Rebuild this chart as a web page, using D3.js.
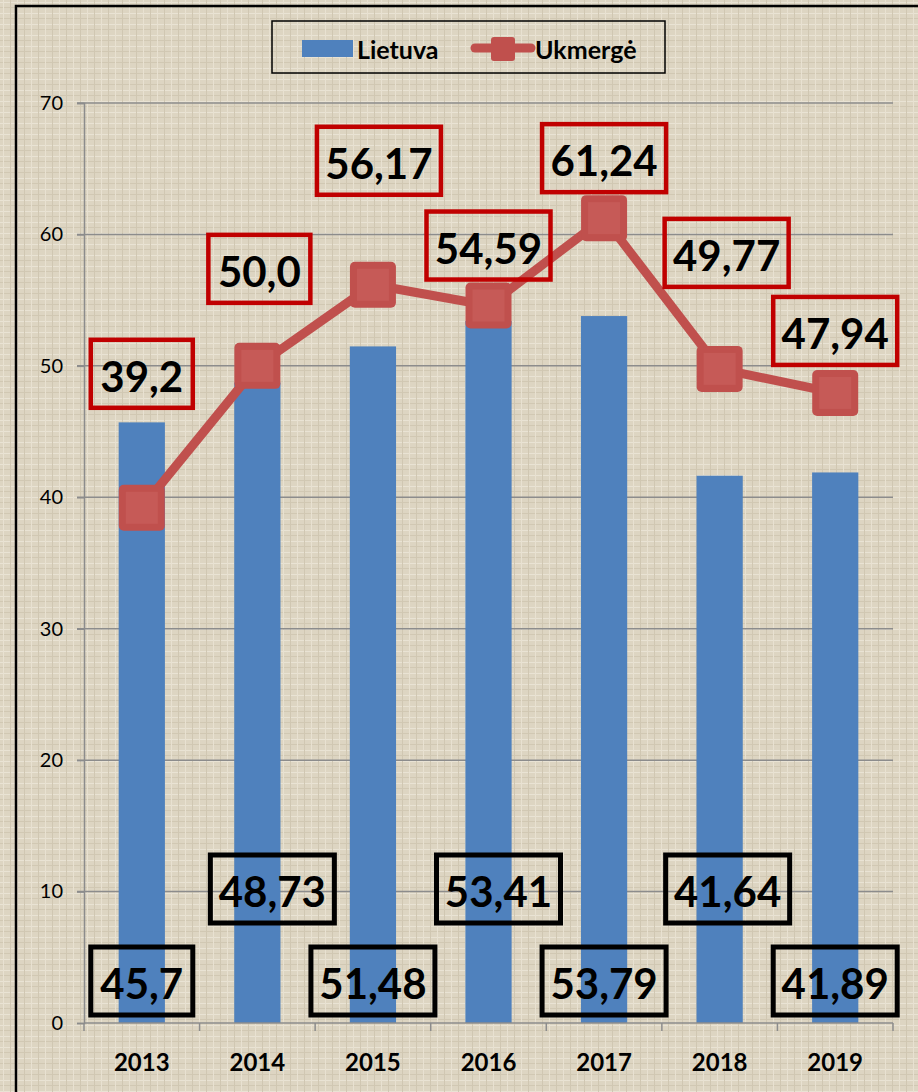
<!DOCTYPE html>
<html>
<head>
<meta charset="utf-8">
<script src="https://cdn.jsdelivr.net/npm/d3@7"></script>
<style>
  body { margin: 0; background: #ddd5c2; }
  #wrapper { width: 918px; height: 1092px; }
</style>
</head>
<body>
<div id="wrapper"></div>
<script>
// data
const years = ["2013", "2014", "2015", "2016", "2017", "2018", "2019"]
const lietuva = [45.7, 48.73, 51.48, 53.41, 53.79, 41.64, 41.89]
const ukmerge = [39.2, 50.0, 56.17, 54.59, 61.24, 49.77, 47.94]
const lietuvaLabels = ["45,7", "48,73", "51,48", "53,41", "53,79", "41,64", "41,89"]
const ukmergeLabels = ["39,2", "50,0", "56,17", "54,59", "61,24", "49,77", "47,94"]
const yTicks = [0, 10, 20, 30, 40, 50, 60, 70]

// label placement (layout, px)
const ukLabelOffsets = [[0, -134], [2, -97], [6, -124], [0, -60], [0, -60], [7, -116], [0, -62]]
const ltLabelDx = [0, 15, 0, 10, 0, 8, 0]
const ltLabelRows = [981, 889, 981, 889, 981, 889, 981]

const width = 918
const height = 1092
const margin = { top: 103, right: 25, bottom: 69, left: 84 }

const svg = d3.select("#wrapper").append("svg")
  .attr("width", width)
  .attr("height", height)
  .style("font-family", "Lato, 'Open Sans', sans-serif")

// textured background
const defs = svg.append("defs")
const pat = defs.append("pattern")
  .attr("id", "burlap")
  .attr("width", 14).attr("height", 11)
  .attr("patternUnits", "userSpaceOnUse")
pat.append("rect").attr("width", 14).attr("height", 11).attr("fill", "#ddd5c2")
pat.append("rect").attr("x", 0).attr("y", 2).attr("width", 14).attr("height", 1).attr("fill", "#e9e3d4")
pat.append("rect").attr("x", 0).attr("y", 7).attr("width", 14).attr("height", 1).attr("fill", "#d1c8b3")
pat.append("rect").attr("x", 3).attr("y", 0).attr("width", 1).attr("height", 11).attr("fill", "#e8e1d1")
pat.append("rect").attr("x", 10).attr("y", 0).attr("width", 1).attr("height", 11).attr("fill", "#d0c7b2")
svg.append("rect").attr("width", width).attr("height", height).attr("fill", "url(#burlap)")

// outer chart border
svg.append("rect")
  .attr("x", 16).attr("y", 6)
  .attr("width", width + 10).attr("height", height + 10)
  .attr("fill", "none").attr("stroke", "#000").attr("stroke-width", 2.5)

const x = d3.scaleBand()
  .domain(years)
  .range([margin.left, width - margin.right])

const y = d3.scaleLinear()
  .domain([0, 70])
  .range([1023, margin.top])

// gridlines
svg.append("g")
  .selectAll("line")
  .data(yTicks.filter(d => d > 0))
  .join("line")
  .attr("x1", margin.left - 7).attr("x2", width - margin.right)
  .attr("y1", d => y(d)).attr("y2", d => y(d))
  .attr("stroke", "#8c8c8c").attr("stroke-width", 1.5)

// y axis
const yAxis = svg.append("g")
  .attr("transform", `translate(${margin.left},0)`)
  .call(d3.axisLeft(y).tickValues(yTicks).tickSize(7).tickPadding(14))
yAxis.select(".domain").attr("stroke", "#8c8c8c").attr("stroke-width", 1.5)
yAxis.selectAll(".tick line").attr("stroke", "#8c8c8c").attr("stroke-width", 1.5)
yAxis.selectAll(".tick text")
  .attr("font-size", 20).attr("fill", "#000")
  .style("font-family", "Lato, sans-serif")

// bars
const barW = x.bandwidth() * 0.4
svg.append("g")
  .selectAll("rect")
  .data(lietuva)
  .join("rect")
  .attr("x", (d, i) => x(years[i]) + x.bandwidth() / 2 - barW / 2)
  .attr("y", d => y(d))
  .attr("width", barW)
  .attr("height", d => y(0) - y(d))
  .attr("fill", "#4f81bd")

// x axis
const xAxisLine = svg.append("g")
xAxisLine.append("line")
  .attr("x1", margin.left).attr("x2", width - margin.right)
  .attr("y1", y(0)).attr("y2", y(0))
  .attr("stroke", "#8c8c8c").attr("stroke-width", 1.5)
xAxisLine.selectAll("line.tk")
  .data(years.concat(["end"]))
  .join("line")
  .attr("class", "tk")
  .attr("x1", (d, i) => margin.left + i * x.step())
  .attr("x2", (d, i) => margin.left + i * x.step())
  .attr("y1", y(0)).attr("y2", y(0) + 8)
  .attr("stroke", "#8c8c8c").attr("stroke-width", 1.5)
svg.append("g")
  .selectAll("text")
  .data(years)
  .join("text")
  .attr("x", d => x(d) + x.bandwidth() / 2)
  .attr("y", y(0) + 48)
  .attr("text-anchor", "middle")
  .attr("font-size", 24).attr("font-weight", 700)
  .text(d => d)

// line
const cx = (d, i) => x(years[i]) + x.bandwidth() / 2
svg.append("path")
  .datum(ukmerge)
  .attr("d", d3.line().x(cx).y(d => y(d)))
  .attr("fill", "none")
  .attr("stroke", "#c0504d")
  .attr("stroke-width", 9)
  .attr("stroke-linejoin", "round")

const mk = 46
const markers = svg.append("g")
  .selectAll("g")
  .data(ukmerge)
  .join("g")
  .attr("transform", (d, i) => `translate(${cx(d, i)},${y(d)})`)
markers.append("rect")
  .attr("x", -mk / 2).attr("y", -mk / 2)
  .attr("width", mk).attr("height", mk)
  .attr("rx", 5)
  .attr("fill", "#c0504d")
markers.append("rect")
  .attr("x", -mk / 2 + 7).attr("y", -mk / 2 + 7)
  .attr("width", mk - 14).attr("height", mk - 14)
  .attr("fill", "#c65a57")

// label boxes
function labelBox(g, text, bx, by, color, sw) {
  g.append("text")
    .attr("x", bx).attr("y", by + 2)
    .attr("text-anchor", "middle")
    .attr("dominant-baseline", "central")
    .attr("font-size", 42).attr("font-weight", 700)
    .attr("fill", "#000")
    .text(text)
  const w = text.length > 4 ? 124 : 102
  g.insert("rect", "text")
    .attr("x", bx - w / 2).attr("y", by - 34)
    .attr("width", w).attr("height", 68)
    .attr("fill", "none")
    .attr("stroke", color).attr("stroke-width", sw)
}

const ukLabels = svg.append("g")
ukmerge.forEach((d, i) => {
  labelBox(ukLabels, ukmergeLabels[i], cx(d, i) + ukLabelOffsets[i][0], y(d) + ukLabelOffsets[i][1], "#c00000", 4.5)
})
const ltLabels = svg.append("g")
lietuva.forEach((d, i) => {
  labelBox(ltLabels, lietuvaLabels[i], cx(d, i) + ltLabelDx[i], ltLabelRows[i], "#000", 5)
})

// legend
const legend = svg.append("g")
legend.append("rect")
  .attr("x", 272).attr("y", 21)
  .attr("width", 393).attr("height", 52)
  .attr("fill", "none").attr("stroke", "#000").attr("stroke-width", 1.5)
legend.append("rect")
  .attr("x", 302).attr("y", 40)
  .attr("width", 51).attr("height", 17)
  .attr("fill", "#4f81bd")
legend.append("text")
  .attr("x", 357).attr("y", 49)
  .attr("dominant-baseline", "central")
  .attr("font-size", 25).attr("font-weight", 700)
  .text("Lietuva")
legend.append("line")
  .attr("x1", 475).attr("x2", 531)
  .attr("y1", 48).attr("y2", 48)
  .attr("stroke", "#c0504d").attr("stroke-width", 9)
  .attr("stroke-linecap", "round")
legend.append("rect")
  .attr("x", 491).attr("y", 37)
  .attr("width", 24).attr("height", 24)
  .attr("rx", 3)
  .attr("fill", "#c0504d")
legend.append("text")
  .attr("x", 535).attr("y", 49)
  .attr("dominant-baseline", "central")
  .attr("font-size", 25).attr("font-weight", 700)
  .text("Ukmergė")
</script>
</body>
</html>
